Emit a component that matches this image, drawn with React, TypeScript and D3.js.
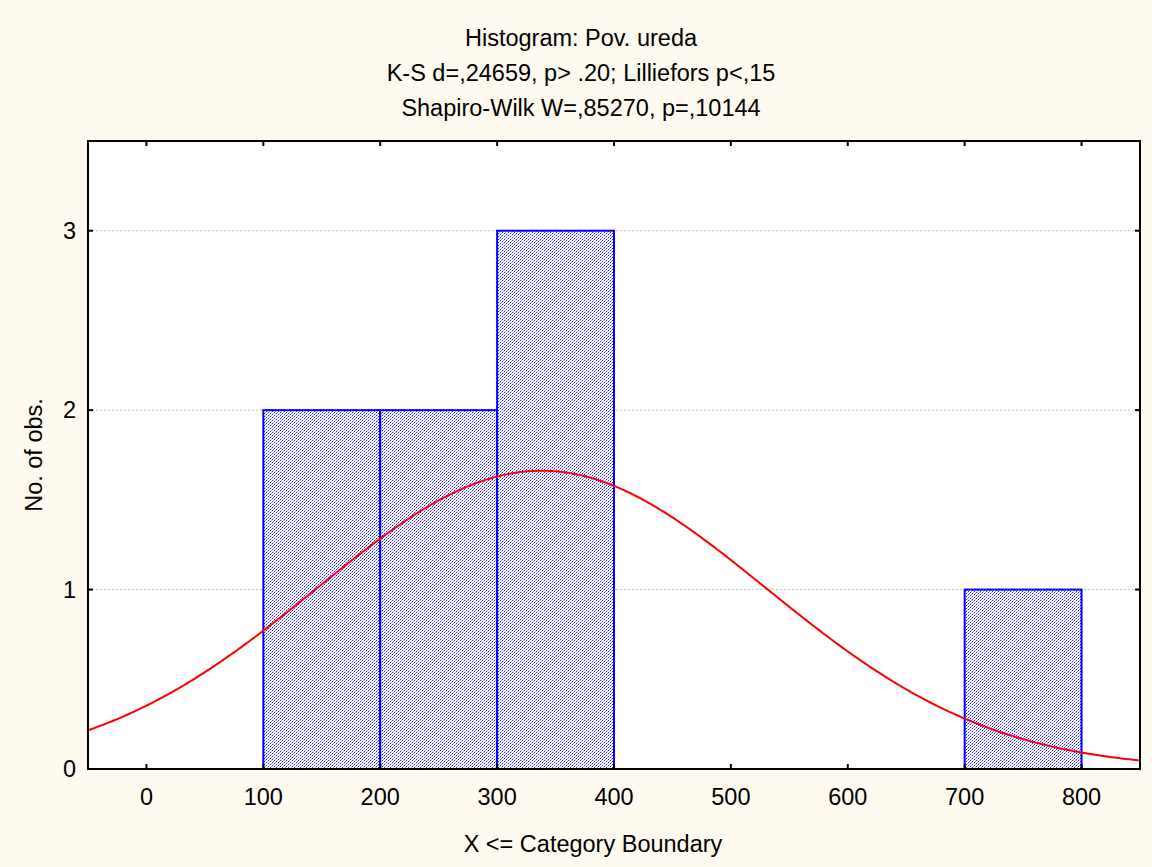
import React from "react";
import * as d3 from "d3";

const binStarts = [0, 100, 200, 300, 400, 500, 600, 700];
const binCounts = [0, 2, 2, 3, 0, 0, 0, 1];
const binWidth = 100;
const xTicks = [0, 100, 200, 300, 400, 500, 600, 700, 800];
const yTicks = [0, 1, 2, 3];
const titleLines = [
  "Histogram: Pov. ureda",
  "K-S d=,24659, p> .20; Lilliefors p<,15",
  "Shapiro-Wilk W=,85270, p=,10144",
];
const fitMean = 338;
const fitSd = 192;
const totalN = 8;

const W = 1152;
const H = 867;
const L = 88, R = 1140, T = 141, B = 769;
const font = "'Liberation Sans', Arial, sans-serif";
const fs = 23.5;

export default function App() {
  const x = d3.scaleLinear().domain([-50, 850]).range([L, R]);
  const y = d3.scaleLinear().domain([0, 3.5]).range([B, T]);

  const curvePts = d3.range(-50, 850.5, 2).map((v) => {
    const z = (v - fitMean) / fitSd;
    const dens = (totalN * binWidth) / (fitSd * Math.sqrt(2 * Math.PI)) * Math.exp(-0.5 * z * z);
    return [v, dens] as [number, number];
  });
  const line = d3
    .line<[number, number]>()
    .x((d) => x(d[0]))
    .y((d) => y(d[1]))
    .curve(d3.curveMonotoneX);

  const hatchPix: [number, number, string][] = [];
  for (let k = 0; k < 6; k++) {
    for (let j = 0; j < 6; j++) {
      if ((k + j) % 3 === 2) {
        hatchPix.push([k, j, (k % 2 === 0) ? "#1a1aff" : "#a0a0ff"]);
      }
    }
  }

  return (
    <svg
      width={W}
      height={H}
      style={{ position: "absolute", left: 0, top: 0, display: "block" }}
    >
      <defs>
        <pattern id="hatch" patternUnits="userSpaceOnUse" x="0" y="0" width="6" height="6">
          <rect width="6" height="6" fill="#ffffff" />
          {hatchPix.map(([px, py, c], i) => (
            <rect key={i} x={px} y={py} width={1} height={1} fill={c} shapeRendering="crispEdges" />
          ))}
        </pattern>
        <clipPath id="plotclip">
          <rect x={L} y={T} width={R - L} height={B - T} />
        </clipPath>
      </defs>
      <rect x={0} y={0} width={W} height={H} fill="#fffaf0" />
      <rect x={L} y={T} width={R - L} height={B - T} fill="#ffffff" />

      {yTicks
        .filter((t) => t > 0)
        .map((t) => (
          <line
            key={"g" + t}
            x1={L}
            x2={R}
            y1={y(t)}
            y2={y(t)}
            stroke="#c0c0c0"
            strokeWidth={1}
            strokeDasharray="2,2"
          />
        ))}

      {binStarts.map((s, i) => {
        const x0 = x(s);
        const x1 = x(s + binWidth);
        const y1 = y(binCounts[i]);
        if (binCounts[i] === 0) {
          return (
            <line key={"b" + i} x1={x0} x2={x1} y1={B} y2={B} stroke="#000080" strokeWidth={2} />
          );
        }
        return (
          <rect
            key={"b" + i}
            x={x0}
            y={y1}
            width={x1 - x0}
            height={B - y1}
            fill="url(#hatch)"
            stroke="#0000ff"
            strokeWidth={2}
          />
        );
      })}

      <path
        d={line(curvePts) || ""}
        fill="none"
        stroke="#ff0000"
        strokeWidth={2}
        clipPath="url(#plotclip)"
      />

      <rect x={L} y={T} width={R - L} height={B - T} fill="none" stroke="#000" strokeWidth={2} />

      {xTicks.map((t) => (
        <g key={"xt" + t}>
          <line x1={x(t)} x2={x(t)} y1={B} y2={B - 5} stroke="#000" strokeWidth={2} />
          <line x1={x(t)} x2={x(t)} y1={T} y2={T + 5} stroke="#000" strokeWidth={2} />
          <text
            x={x(t)}
            y={B + 36}
            textAnchor="middle"
            fontFamily={font}
            fontSize={fs}
            fill="#000"
          >
            {t}
          </text>
        </g>
      ))}

      {yTicks.map((t) => (
        <g key={"yt" + t}>
          <line x1={L} x2={L + 5} y1={y(t)} y2={y(t)} stroke="#000" strokeWidth={2} />
          <line x1={R} x2={R - 5} y1={y(t)} y2={y(t)} stroke="#000" strokeWidth={2} />
          <text
            x={L - 12}
            y={y(t) + 8}
            textAnchor="end"
            fontFamily={font}
            fontSize={fs}
            fill="#000"
          >
            {t}
          </text>
        </g>
      ))}

      {titleLines.map((s, i) => (
        <text
          key={"t" + i}
          x={581}
          y={46 + i * 35}
          textAnchor="middle"
          fontFamily={font}
          fontSize={fs}
          fill="#000"
        >
          {s}
        </text>
      ))}

      <text
        x={593}
        y={852}
        textAnchor="middle"
        fontFamily={font}
        fontSize={fs}
        fill="#000"
      >
        X &lt;= Category Boundary
      </text>

      <text
        transform={`translate(42,455) rotate(-90)`}
        textAnchor="middle"
        fontFamily={font}
        fontSize={fs}
        fill="#000"
      >
        No. of obs.
      </text>
    </svg>
  );
}
